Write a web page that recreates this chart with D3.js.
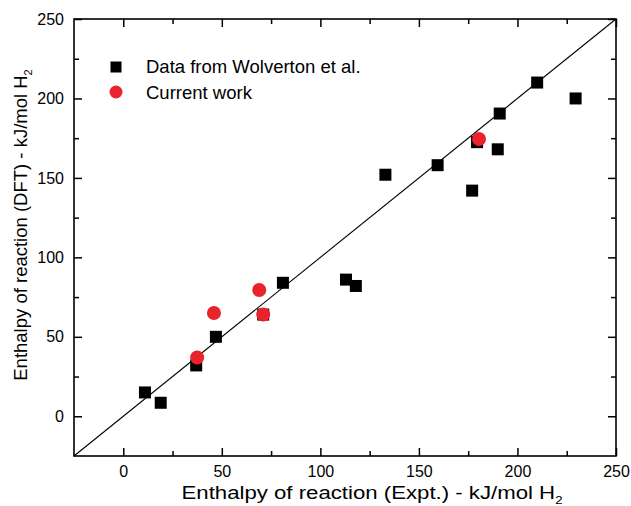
<!DOCTYPE html>
<html>
<head>
<meta charset="utf-8">
<script src="https://cdn.jsdelivr.net/npm/d3@7/dist/d3.min.js"></script>
<style>
  body { margin: 0; background: #fff; }
  svg { display: block; font-family: "Liberation Sans", Arial, sans-serif; }
</style>
</head>
<body>
<svg id="chart" width="631" height="506"></svg>
<script>
// ---- data ----
const wolvertonX = [11, 19, 37, 47, 71, 81, 113, 118, 133, 159.5, 177, 179.5, 190, 191, 210, 229.5];
const wolvertonY = [15, 8.5, 32, 50, 64, 84, 86, 82, 152, 158, 142, 172.5, 168, 190.5, 210, 200];
const currentX = [37.5, 46, 69, 71, 180.5];
const currentY = [37, 65, 79.5, 64, 174.5];
const majorTicks = [0, 50, 100, 150, 200, 250];
const minorTicks = [-25, 25, 75, 125, 175, 225];
const seriesNames = ["Data from Wolverton et al.", "Current work"];
const xDomain = [-25, 250];
const yDomain = [-25, 250];

const svg = d3.select("#chart");
const L = 74, R = 616, T = 19, B = 456;
const x = d3.scaleLinear().domain(xDomain).range([L, R]);
const y = d3.scaleLinear().domain(yDomain).range([B, T]);
const red = "#e8232b";

function styleAxis(g) {
  g.select(".domain").remove();
  g.selectAll(".tick line").attr("stroke", "#000").attr("stroke-width", 1.5);
  g.selectAll(".tick text").attr("fill", "#000").style("font-size", "16px")
    .style("font-family", "'Liberation Sans', Arial, sans-serif");
}

// bottom major + minor
svg.append("g").attr("transform", `translate(0,${B})`)
  .call(d3.axisBottom(x).tickValues(majorTicks).tickSizeInner(-8).tickSizeOuter(0).tickPadding(10).tickFormat(d3.format("d")))
  .call(styleAxis);
svg.append("g").attr("transform", `translate(0,${B})`)
  .call(d3.axisBottom(x).tickValues(minorTicks.filter(v => v > xDomain[0])).tickSizeInner(-5).tickSizeOuter(0).tickFormat(""))
  .call(styleAxis);
// top
svg.append("g").attr("transform", `translate(0,${T})`)
  .call(d3.axisTop(x).tickValues(majorTicks).tickSizeInner(-8).tickSizeOuter(0).tickFormat(""))
  .call(styleAxis);
svg.append("g").attr("transform", `translate(0,${T})`)
  .call(d3.axisTop(x).tickValues(minorTicks.filter(v => v > xDomain[0])).tickSizeInner(-5).tickSizeOuter(0).tickFormat(""))
  .call(styleAxis);
// left
svg.append("g").attr("transform", `translate(${L},0)`)
  .call(d3.axisLeft(y).tickValues(majorTicks).tickSizeInner(-8).tickSizeOuter(0).tickPadding(10).tickFormat(d3.format("d")))
  .call(styleAxis);
svg.append("g").attr("transform", `translate(${L},0)`)
  .call(d3.axisLeft(y).tickValues(minorTicks.filter(v => v > yDomain[0])).tickSizeInner(-5).tickSizeOuter(0).tickFormat(""))
  .call(styleAxis);
// right
svg.append("g").attr("transform", `translate(${R},0)`)
  .call(d3.axisRight(y).tickValues(majorTicks).tickSizeInner(-8).tickSizeOuter(0).tickFormat(""))
  .call(styleAxis);
svg.append("g").attr("transform", `translate(${R},0)`)
  .call(d3.axisRight(y).tickValues(minorTicks.filter(v => v > yDomain[0])).tickSizeInner(-5).tickSizeOuter(0).tickFormat(""))
  .call(styleAxis);

// frame
svg.append("rect").attr("x", L).attr("y", T).attr("width", R - L).attr("height", B - T)
  .attr("fill", "none").attr("stroke", "#000").attr("stroke-width", 1.6);

// diagonal y = x
svg.append("line")
  .attr("x1", x(xDomain[0])).attr("y1", y(yDomain[0]))
  .attr("x2", x(xDomain[1])).attr("y2", y(yDomain[1]))
  .attr("stroke", "#000").attr("stroke-width", 1.1);

// squares
const sq = 12;
svg.append("g").selectAll("rect").data(wolvertonX.map((v, i) => [v, wolvertonY[i]]))
  .join("rect")
  .attr("x", d => x(d[0]) - sq / 2).attr("y", d => y(d[1]) - sq / 2)
  .attr("width", sq).attr("height", sq).attr("fill", "#000");

// circles
svg.append("g").selectAll("circle").data(currentX.map((v, i) => [v, currentY[i]]))
  .join("circle")
  .attr("cx", d => x(d[0])).attr("cy", d => y(d[1])).attr("r", 7).attr("fill", red);

// legend
svg.append("rect").attr("x", 116 - 5.5).attr("y", 67 - 5.5).attr("width", 11).attr("height", 11).attr("fill", "#000");
svg.append("circle").attr("cx", 116).attr("cy", 92).attr("r", 6.5).attr("fill", red);
svg.append("text").attr("x", 146).attr("y", 73).style("font-size", "18.5px").text(seriesNames[0]);
svg.append("text").attr("x", 146).attr("y", 99).style("font-size", "18.5px").text(seriesNames[1]);

// axis titles
const xt = svg.append("text").attr("transform", "translate(372,499) scale(1.2,1)")
  .attr("text-anchor", "middle").style("font-size", "18.5px");
xt.append("tspan").text("Enthalpy of reaction (Expt.) - kJ/mol H");
xt.append("tspan").attr("dy", 5).style("font-size", "11px").text("2");

const yt = svg.append("text").attr("transform", "translate(27,225) rotate(-90)")
  .attr("text-anchor", "middle").style("font-size", "18.5px");
yt.append("tspan").text("Enthalpy of reaction (DFT) - kJ/mol H");
yt.append("tspan").attr("dy", 5).style("font-size", "11px").text("2");
</script>
</body>
</html>
